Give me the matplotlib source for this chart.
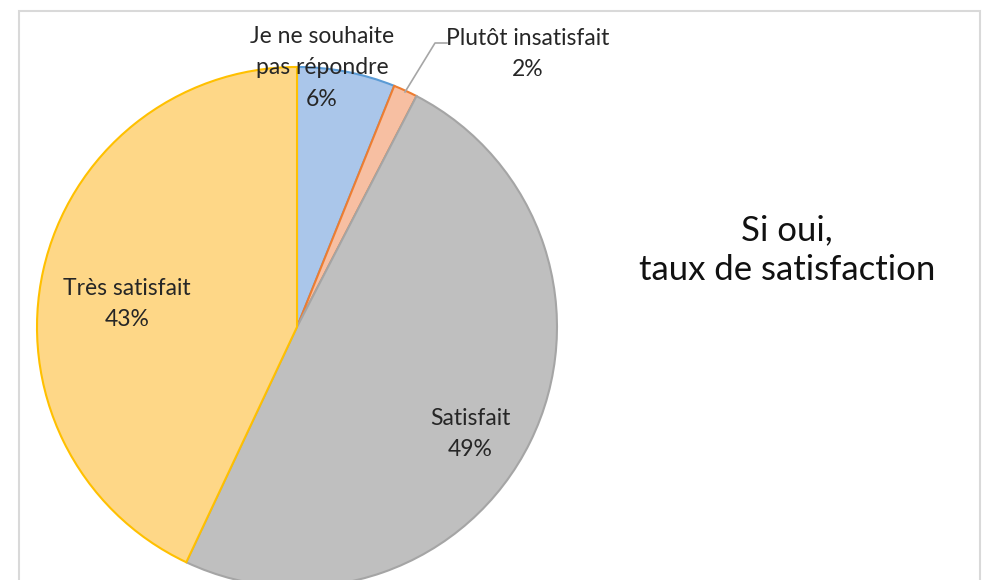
import matplotlib.pyplot as plt
from matplotlib.patches import Rectangle

# Satisfaction data
categories = ['Je ne souhaite\npas répondre', 'Plutôt insatisfait', 'Satisfait', 'Très satisfait']
values = [6.1, 1.5, 49.4, 43.0]
pct_labels = ['6%', '2%', '49%', '43%']
fill_colors = ['#AAC6EA', '#F7BFA2', '#BFBFBF', '#FED787']
edge_colors = ['#5B9BD5', '#ED7D31', '#A5A5A5', '#FFC000']

W, H = 982, 580
fig = plt.figure(figsize=(W / 100, H / 100), dpi=100)
ax = fig.add_axes([0, 0, 1, 1])

# pie in pixel-like data coords (y measured from bottom)
cx, cy, r = 297, H - 327, 260
wedges, _ = ax.pie(values, center=(cx, cy), radius=r, startangle=90, counterclock=False,
                   colors=fill_colors, frame=True,
                   wedgeprops=dict(linewidth=1.5))
for w, ec in zip(wedges, edge_colors):
    w.set_edgecolor(ec)

ax.set_xlim(0, W)
ax.set_ylim(0, H)
ax.set_aspect('equal')
ax.axis('off')

# chart frame
ax.add_patch(Rectangle((19, -20), 961, H - 11 + 20, fill=False, edgecolor='#D9D9D9',
                       linewidth=1.5, clip_on=False))

font = 'Lato'
lab = dict(ha='center', va='center', fontsize=16.5, color='#262626', family=font, linespacing=1.6)
ax.text(322, H - 68, categories[0] + '\n' + pct_labels[0], **lab)
ax.text(528, H - 54, categories[1] + '\n' + pct_labels[1], **lab)
ax.text(470, H - 434, categories[2] + '\n' + pct_labels[2], **lab)
ax.text(127, H - 304, categories[3] + '\n' + pct_labels[3], **lab)

# leader line for the small slice
ax.plot([447, 435, 405], [H - 43, H - 43, H - 92], color='#A6A6A6', linewidth=1.2)

ax.text(787, H - 250, 'Si oui,\ntaux de satisfaction', ha='center', va='center',
        fontsize=25, color='#111111', family=font, linespacing=1.3)

fig.savefig('out.png', dpi=100)
